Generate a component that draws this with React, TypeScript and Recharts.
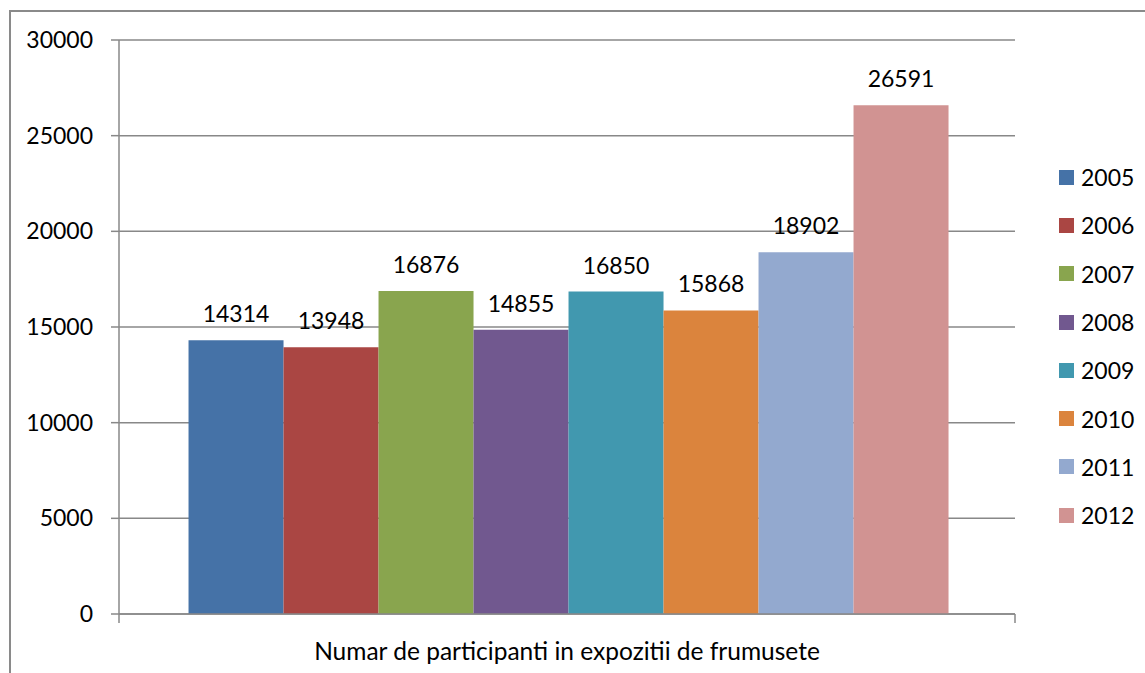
import { Bar, BarChart, CartesianGrid, LabelList, XAxis, YAxis } from "recharts";

const category = "Numar de participanti in expozitii de frumusete";
const years = ["2005", "2006", "2007", "2008", "2009", "2010", "2011", "2012"];
const participants = [14314, 13948, 16876, 14855, 16850, 15868, 18902, 26591];
const colors = ["#4572A7", "#AA4643", "#89A54E", "#71588F", "#4198AF", "#DB843D", "#93A9CF", "#D19392"];
const yTicks = [0, 5000, 10000, 15000, 20000, 25000, 30000];

const FONT = "Lato, 'Open Sans', sans-serif";
const AXIS = "#888888";

const row: Record<string, string | number> = { name: category };
years.forEach((y, i) => {
  row[y] = participants[i];
});
const data = [row];

function CategoryTick(props: any) {
  const { x, y, payload } = props;
  const half = typeof payload?.offset === "number" ? payload.offset : 448;
  return (
    <g>
      <line x1={x - half} y1={y} x2={x - half} y2={y + 9} stroke={AXIS} strokeWidth={1.5} />
      <line x1={x + half} y1={y} x2={x + half} y2={y + 9} stroke={AXIS} strokeWidth={1.5} />
      <text x={x} y={y + 46} textAnchor="middle" fill="#000" style={{ fontSize: 24.5, fontFamily: FONT }}>
        {payload.value}
      </text>
    </g>
  );
}

export default function App() {
  return (
    <div style={{ position: "absolute", left: 0, top: 0, width: 1145, height: 673, overflow: "hidden", background: "#fff" }}>
      <div
        style={{
          position: "absolute",
          left: 9,
          top: 10,
          width: 1300,
          height: 800,
          borderLeft: "2px solid #8a8a8a",
          borderTop: "2px solid #8a8a8a",
          boxSizing: "border-box",
        }}
      />
      <div style={{ position: "absolute", left: 0, top: 0 }}>
        <BarChart
          width={1145}
          height={673}
          data={data}
          margin={{ top: 40, right: 130, left: 0, bottom: 9 }}
          barCategoryGap="7.76%"
          barGap={0}
        >
          <CartesianGrid vertical={false} stroke={AXIS} strokeWidth={1.5} />
          <XAxis
            dataKey="name"
            height={50}
            tickSize={0}
            tickMargin={0}
            tickLine={false}
            axisLine={{ stroke: AXIS, strokeWidth: 1.5 }}
            tick={<CategoryTick />}
            interval={0}
          />
          <YAxis
            width={119}
            domain={[0, 30000]}
            ticks={yTicks}
            tickSize={8}
            tickMargin={18}
            axisLine={{ stroke: AXIS, strokeWidth: 1.5 }}
            tickLine={{ stroke: AXIS, strokeWidth: 1.5 }}
            tick={{ fill: "#000", fontSize: 23, fontFamily: FONT }}
          />
          {years.map((y, i) => (
            <Bar key={y} dataKey={y} fill={colors[i]} isAnimationActive={false}>
              <LabelList dataKey={y} position="top" offset={18} fill="#000" fontSize={23} fontFamily={FONT} />
            </Bar>
          ))}
        </BarChart>
      </div>
      <div style={{ position: "absolute", left: 1059, top: 153, fontFamily: FONT, fontSize: 23, color: "#000" }}>
        {years.map((y, i) => (
          <div key={y} style={{ display: "flex", alignItems: "center", height: 48.3 }}>
            <span style={{ width: 15, height: 15, background: colors[i], marginRight: 7, display: "inline-block" }} />
            <span>{y}</span>
          </div>
        ))}
      </div>
    </div>
  );
}
